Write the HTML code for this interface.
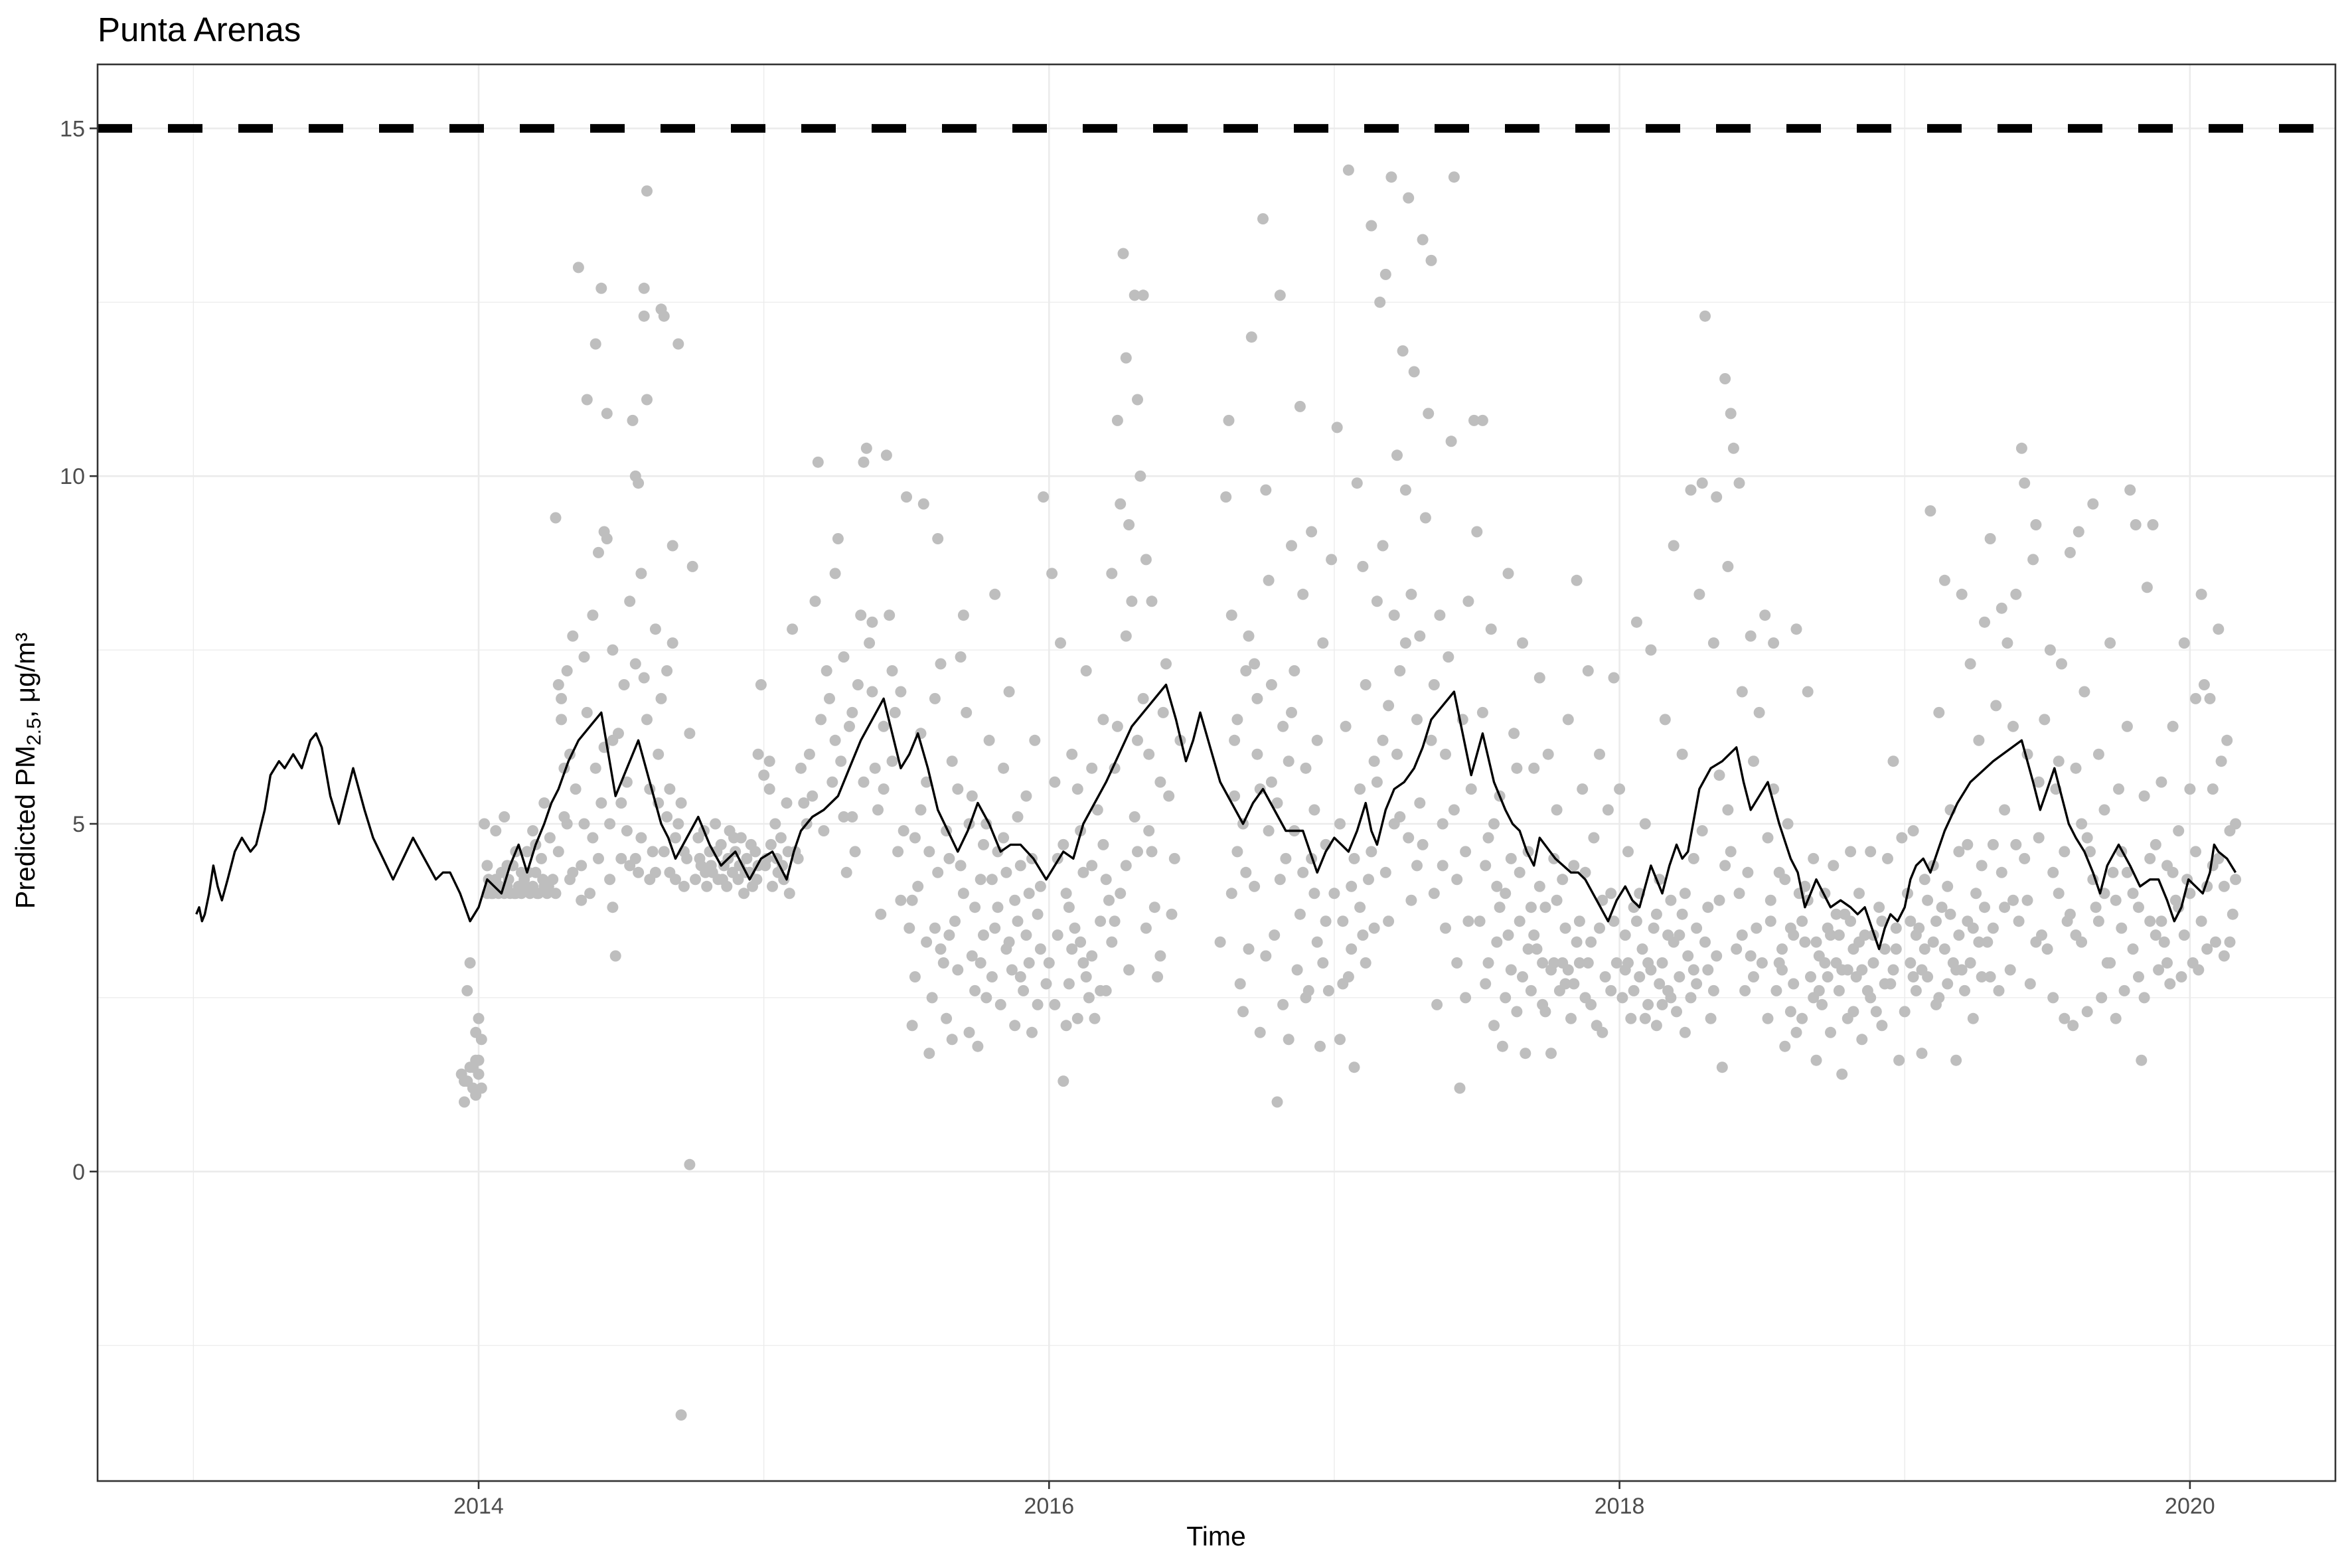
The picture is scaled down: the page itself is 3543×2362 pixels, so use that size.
<!DOCTYPE html>
<html><head><meta charset="utf-8"><style>
html,body{margin:0;padding:0;background:#fff;}
svg{display:block;font-family:"Liberation Sans",Arial,sans-serif;}
</style></head><body>
<svg id="chart" width="3543" height="2362" viewBox="0 0 3543 2362" xmlns="http://www.w3.org/2000/svg">
<rect width="3543" height="2362" fill="#fff"/>
<text x="147" y="62" font-size="51" fill="#000">Punta Arenas</text>
<g id="grid"></g>
<g id="points"></g>
<g id="lines"></g>
<g id="axes"></g>
<text x="1832" y="2328" font-size="41" text-anchor="middle" fill="#000">Time</text>
<text transform="translate(52,1161) rotate(-90)" font-size="41" text-anchor="middle" fill="#000">Predicted PM<tspan font-size="30" dy="9">2.5</tspan><tspan dy="-9">, μg/m³</tspan></text>
</svg>
<script>
const xTickLabels=["2014","2016","2018","2020"];
const xTickValues=[2014,2016,2018,2020];
const yTickValues=[0,5,10,15];
const threshold=15;
const linePairs=`2013.01 3.7,2013.02 3.8,2013.03 3.6,2013.04 3.7,2013.055 4.0,2013.07 4.4,2013.085 4.1,2013.1 3.9,2013.12 4.2,2013.145 4.6,2013.17 4.8,2013.2 4.6,2013.22 4.7,2013.25 5.2,2013.27 5.7,2013.3 5.9,2013.32 5.8,2013.35 6.0,2013.38 5.8,2013.41 6.2,2013.43 6.3,2013.45 6.1,2013.48 5.4,2013.51 5.0,2013.535 5.4,2013.56 5.8,2013.6 5.2,2013.63 4.8,2013.665 4.5,2013.70 4.2,2013.735 4.5,2013.77 4.8,2013.81 4.5,2013.85 4.2,2013.875 4.3,2013.90 4.3,2013.935 4.0,2013.97 3.6,2014.0 3.8,2014.03 4.2,2014.055 4.1,2014.08 4.0,2014.11 4.4,2014.14 4.7,2014.17 4.3,2014.2 4.7,2014.23 5.0,2014.255 5.3,2014.28 5.5,2014.315 5.9,2014.35 6.2,2014.39 6.4,2014.43 6.6,2014.455 6.0,2014.48 5.4,2014.52 5.8,2014.56 6.2,2014.6 5.6,2014.64 5.0,2014.665 4.8,2014.69 4.5,2014.73 4.8,2014.77 5.1,2014.81 4.7,2014.85 4.4,2014.875 4.5,2014.90 4.6,2014.925 4.4,2014.95 4.2,2014.99 4.5,2015.03 4.6,2015.055 4.4,2015.08 4.2,2015.105 4.6,2015.13 4.9,2015.17 5.1,2015.21 5.2,2015.235 5.3,2015.26 5.4,2015.3 5.8,2015.34 6.2,2015.38 6.5,2015.42 6.8,2015.45 6.3,2015.48 5.8,2015.51 6.0,2015.54 6.3,2015.575 5.8,2015.61 5.2,2015.645 4.9,2015.68 4.6,2015.715 4.9,2015.75 5.3,2015.79 5.0,2015.83 4.6,2015.865 4.7,2015.90 4.7,2015.945 4.5,2015.99 4.2,2016.02 4.4,2016.05 4.6,2016.085 4.5,2016.12 5.0,2016.16 5.3,2016.20 5.6,2016.245 6.0,2016.29 6.4,2016.35 6.7,2016.41 7.0,2016.445 6.5,2016.48 5.9,2016.505 6.2,2016.53 6.6,2016.565 6.1,2016.60 5.6,2016.64 5.3,2016.68 5.0,2016.715 5.3,2016.75 5.5,2016.79 5.2,2016.83 4.9,2016.86 4.9,2016.89 4.9,2016.915 4.6,2016.94 4.3,2016.97 4.6,2017.00 4.8,2017.025 4.7,2017.05 4.6,2017.08 4.9,2017.11 5.3,2017.13 4.9,2017.15 4.7,2017.18 5.2,2017.21 5.5,2017.245 5.6,2017.28 5.8,2017.31 6.1,2017.34 6.5,2017.38 6.7,2017.42 6.9,2017.45 6.3,2017.48 5.7,2017.50 6.0,2017.52 6.3,2017.56 5.6,2017.60 5.2,2017.625 5.0,2017.65 4.9,2017.675 4.6,2017.70 4.4,2017.71 4.6,2017.72 4.8,2017.775 4.5,2017.83 4.3,2017.855 4.3,2017.88 4.2,2017.92 3.9,2017.96 3.6,2017.99 3.9,2018.02 4.1,2018.045 3.9,2018.07 3.8,2018.09 4.1,2018.11 4.4,2018.13 4.2,2018.15 4.0,2018.175 4.4,2018.20 4.7,2018.22 4.5,2018.24 4.6,2018.28 5.5,2018.32 5.8,2018.36 5.9,2018.41 6.1,2018.435 5.6,2018.46 5.2,2018.49 5.4,2018.52 5.6,2018.56 5.0,2018.60 4.5,2018.625 4.3,2018.65 3.8,2018.67 4.0,2018.69 4.2,2018.715 4.0,2018.74 3.8,2018.775 3.9,2018.81 3.8,2018.835 3.7,2018.86 3.8,2018.885 3.5,2018.91 3.2,2018.93 3.5,2018.95 3.7,2018.975 3.6,2019.00 3.8,2019.02 4.2,2019.04 4.4,2019.065 4.5,2019.09 4.3,2019.115 4.6,2019.14 4.9,2019.185 5.3,2019.23 5.6,2019.31 5.9,2019.41 6.2,2019.45 5.6,2019.475 5.2,2019.50 5.5,2019.525 5.8,2019.55 5.4,2019.575 5.0,2019.60 4.8,2019.63 4.6,2019.66 4.3,2019.685 4.0,2019.71 4.4,2019.75 4.7,2019.79 4.4,2019.825 4.1,2019.86 4.2,2019.89 4.2,2019.92 3.9,2019.945 3.6,2019.97 3.8,2019.995 4.2,2020.02 4.1,2020.045 4.0,2020.07 4.3,2020.085 4.7,2020.10 4.6,2020.13 4.5,2020.16 4.3`;
const lineX=[],lineY=[];
linePairs.split(',').forEach(function(s){const p=s.trim().split(' ');lineX.push(+p[0]);lineY.push(+p[1]);});
const pts=`2013.95 1.0,2013.96 1.3,2013.97 1.5,2013.98 1.2,2013.99 1.6,2014.0 1.4,2014.01 1.2,2013.96 2.6,2013.97 3.0,2013.99 2.0,2014.0 2.2,2014.02 5.0,2013.94 1.4,2014.01 1.9,2013.98 1.5,2013.99 1.1,2014.0 1.6,2013.95 1.3,
2014.03 4.0,2014.04 4.1,2014.05 4.0,2014.06 4.2,2014.07 4.0,2014.08 4.3,2014.09 4.0,2014.10 4.1,2014.11 4.0,2014.12 4.4,2014.13 4.0,2014.14 4.1,2014.15 4.0,2014.16 4.2,2014.17 4.6,2014.18 4.0,2014.19 4.1,2014.20 4.3,2014.21 4.0,2014.22 4.5,2014.23 4.1,2014.24 4.0,2014.25 4.8,2014.26 4.2,2014.27 4.0,2014.06 4.9,2014.09 5.1,2014.13 4.6,2014.19 4.9,2014.1 4.4,2014.2 4.7,2014.15 4.3,2014.23 5.3,2014.03 4.4,2014.035 4.2,2014.045 4.0,2014.075 4.1,2014.105 4.2,2014.125 4.0,2014.155 4.1,2014.175 4.3,2014.205 4.0,2014.225 4.2,2014.245 4.1,
2014.27 9.4,2014.28 7.0,2014.29 6.5,2014.30 5.8,2014.31 5.0,2014.32 4.2,2014.35 13.0,2014.38 11.1,2014.43 12.7,2014.41 11.9,2014.45 10.9,2014.44 9.2,2014.42 8.9,2014.40 8.0,2014.37 7.4,2014.33 7.7,2014.31 7.2,2014.29 6.8,2014.32 6.0,2014.34 5.5,2014.36 4.4,2014.39 4.0,2014.36 3.9,2014.48 3.1,2014.47 3.8,2014.50 4.5,2014.46 5.0,2014.52 5.6,2014.49 6.3,2014.51 7.0,2014.47 7.5,2014.53 8.2,2014.45 9.1,2014.54 10.8,2014.56 9.9,2014.55 10.0,2014.57 8.6,2014.58 7.1,2014.59 6.5,2014.60 5.5,2014.61 4.6,2014.56 4.3,2014.59 14.1,2014.58 12.7,2014.58 12.3,2014.59 11.1,2014.64 12.4,2014.65 12.3,2014.70 11.9,2014.75 8.7,2014.68 9.0,2014.62 7.8,2014.68 7.6,2014.66 7.2,2014.64 6.8,2014.63 6.0,2014.67 5.5,2014.70 5.0,2014.65 4.6,2014.69 4.2,2014.72 4.1,2014.71 5.3,2014.74 6.3,2014.74 0.1,2014.71 -3.5,2014.40 4.8,2014.43 5.3,2014.44 6.1,2014.52 4.9,2014.55 4.5,2014.38 6.6,2014.55 7.3,2014.41 5.8,2014.30 5.1,2014.28 4.6,2014.47 6.2,2014.62 4.3,2014.66 5.1,2014.73 4.5,2014.33 4.3,2014.37 5.0,2014.42 4.5,2014.46 4.2,2014.5 5.3,2014.53 4.4,2014.57 4.8,2014.6 4.2,2014.63 5.3,2014.67 4.3,2014.69 4.8,2014.72 4.6,
2014.76 4.2,2014.77 4.8,2014.78 4.4,2014.79 4.9,2014.80 4.1,2014.81 4.6,2014.82 4.3,2014.83 5.0,2014.84 4.2,2014.85 4.7,2014.86 4.4,2014.87 4.1,2014.88 4.9,2014.89 4.3,2014.90 4.6,2014.91 4.2,2014.92 4.8,2014.93 4.0,2014.94 4.5,2014.95 4.3,2014.96 4.1,2014.97 4.6,2014.98 4.4,2014.99 7.0,2015.0 5.7,2015.01 4.5,2015.02 5.5,2015.03 4.1,2015.04 5.0,2015.05 4.3,2015.06 4.8,2015.07 4.2,2015.08 5.3,2015.09 4.0,2015.1 7.8,2015.11 4.6,2014.98 6.0,2015.02 5.9,2014.775 4.5,2014.795 4.3,2014.815 4.4,2014.835 4.6,2014.855 4.2,2014.875 4.5,2014.895 4.8,2014.915 4.4,2014.935 4.3,2014.955 4.7,2014.975 4.2,2015.005 4.4,2015.025 4.7,2015.045 4.5,2015.065 4.4,2015.085 4.6,
2015.12 4.5,2015.14 5.3,2015.16 6.0,2015.18 8.2,2015.19 10.2,2015.2 6.5,2015.22 7.2,2015.24 5.6,2015.25 8.6,2015.26 9.1,2015.28 7.4,2015.3 6.4,2015.31 5.1,2015.32 4.6,2015.34 8.0,2015.35 10.2,2015.36 10.4,2015.37 7.6,2015.38 6.9,2015.39 5.8,2015.4 5.2,2015.41 3.7,2015.43 10.3,2015.44 8.0,2015.45 7.2,2015.46 6.6,2015.47 4.6,2015.48 3.9,2015.49 4.9,2015.21 4.9,2015.23 6.8,2015.27 5.9,2015.29 4.3,2015.33 7.0,2015.42 5.5,2015.15 5.0,2015.13 5.8,2015.17 5.4,2015.25 6.2,2015.28 5.1,2015.31 6.6,2015.35 5.6,2015.38 7.9,2015.42 6.4,2015.45 5.9,2015.48 6.9,
2015.5 9.7,2015.51 3.5,2015.52 2.1,2015.53 2.8,2015.54 4.1,2015.55 5.2,2015.56 9.6,2015.57 3.3,2015.58 1.7,2015.59 2.5,2015.6 6.8,2015.61 9.1,2015.62 7.3,2015.63 3.0,2015.64 2.2,2015.65 4.5,2015.66 1.9,2015.67 3.6,2015.68 5.5,2015.69 7.4,2015.7 8.0,2015.71 6.6,2015.72 2.0,2015.73 3.1,2015.74 2.6,2015.75 1.8,2015.76 4.2,2015.77 3.4,2015.78 5.0,2015.79 6.2,2015.8 2.8,2015.81 8.3,2015.82 3.8,2015.83 2.4,2015.84 4.8,2015.85 3.2,2015.86 6.9,2015.87 2.9,2015.88 2.1,2015.89 3.6,2015.9 4.4,2015.91 2.6,2015.92 5.4,2015.93 3.0,2015.94 2.0,2015.95 6.2,2015.96 3.7,2015.97 4.1,2015.98 9.7,2015.99 2.7,2015.52 3.9,2015.58 4.6,2015.62 3.2,2015.66 5.9,2015.7 4.0,2015.74 3.8,2015.78 2.5,2015.82 4.6,2015.86 3.3,2015.9 2.8,2015.94 4.5,2015.55 6.3,2015.6 3.5,2015.64 4.9,2015.68 2.9,2015.72 5.0,2015.76 3.0,2015.8 4.2,2015.84 5.8,2015.88 3.9,2015.92 3.4,2015.96 2.4,2015.53 4.8,2015.57 5.6,2015.61 4.3,2015.65 3.4,2015.69 4.4,2015.73 5.4,2015.77 4.7,2015.81 3.5,2015.85 4.3,2015.89 5.1,2015.93 4.0,2015.97 3.2,
2016.0 3.0,2016.01 8.6,2016.02 5.6,2016.03 3.4,2016.04 7.6,2016.05 1.3,2016.06 4.0,2016.07 2.7,2016.08 6.0,2016.09 3.5,2016.1 2.2,2016.11 4.9,2016.12 3.0,2016.13 7.2,2016.14 2.5,2016.15 4.4,2016.16 2.2,2016.17 5.2,2016.18 3.6,2016.19 6.5,2016.2 2.6,2016.21 3.9,2016.22 8.6,2016.23 5.8,2016.24 10.8,2016.25 9.6,2016.26 13.2,2016.27 11.7,2016.28 9.3,2016.29 8.2,2016.3 12.6,2016.31 11.1,2016.32 10.0,2016.33 12.6,2016.34 8.8,2016.35 6.0,2016.36 4.6,2016.37 3.8,2016.38 2.8,2016.39 3.1,2016.4 6.6,2016.41 7.3,2016.42 5.4,2016.43 3.7,2016.22 3.3,2016.25 4.0,2016.28 2.9,2016.31 4.6,2016.34 3.5,2016.05 4.7,2016.1 5.5,2016.15 3.1,2016.2 4.2,2016.02 2.4,2016.08 3.2,2016.13 2.8,2016.18 2.6,2016.24 6.4,2016.27 7.7,2016.3 5.1,2016.33 6.8,2016.36 8.2,2016.12 4.3,2016.06 2.1,2016.03 4.5,2016.07 3.8,2016.11 3.3,2016.15 5.8,2016.19 4.7,2016.23 3.6,2016.27 4.4,2016.31 6.2,2016.35 4.9,2016.39 5.6,2016.44 4.5,2016.46 6.2,
2016.6 3.3,2016.62 9.7,2016.63 10.8,2016.64 8.0,2016.65 6.2,2016.66 4.6,2016.67 2.7,2016.68 2.3,2016.69 7.2,2016.7 7.7,2016.71 12.0,2016.72 7.3,2016.73 6.0,2016.74 2.0,2016.75 13.7,2016.76 9.8,2016.77 8.5,2016.78 5.6,2016.79 3.4,2016.8 1.0,2016.81 12.6,2016.82 6.4,2016.83 4.5,2016.84 1.9,2016.85 9.0,2016.86 7.2,2016.87 2.9,2016.88 11.0,2016.89 8.3,2016.9 5.8,2016.91 2.6,2016.92 9.2,2016.93 4.0,2016.94 3.3,2016.95 1.8,2016.96 7.6,2016.97 4.7,2016.98 2.6,2016.99 8.8,2016.64 4.0,2016.68 5.0,2016.72 4.1,2016.76 3.1,2016.8 5.3,2016.84 5.9,2016.88 3.7,2016.92 4.5,2016.96 3.0,2016.66 6.5,2016.7 3.2,2016.74 5.5,2016.78 7.0,2016.82 2.4,2016.86 4.9,2016.9 2.5,2016.94 6.2,2016.65 5.4,2016.69 4.3,2016.73 6.8,2016.77 4.9,2016.81 4.2,2016.85 6.6,2016.89 4.3,2016.93 5.2,2016.97 3.6,
2017.0 4.0,2017.01 10.7,2017.02 1.9,2017.03 2.7,2017.04 6.4,2017.05 14.4,2017.06 3.2,2017.07 1.5,2017.08 9.9,2017.09 5.5,2017.1 8.7,2017.11 7.0,2017.12 4.2,2017.13 13.6,2017.14 3.5,2017.15 8.2,2017.16 12.5,2017.17 9.0,2017.18 12.9,2017.19 6.7,2017.2 14.3,2017.21 8.0,2017.22 10.3,2017.23 5.1,2017.24 11.8,2017.25 9.8,2017.26 14.0,2017.27 8.3,2017.28 11.5,2017.29 6.5,2017.3 7.7,2017.31 13.4,2017.32 9.4,2017.33 10.9,2017.34 13.1,2017.35 4.0,2017.36 2.4,2017.37 8.0,2017.38 5.0,2017.39 3.5,2017.4 7.4,2017.41 10.5,2017.42 14.3,2017.43 3.0,2017.44 1.2,2017.45 6.5,2017.46 2.5,2017.47 8.2,2017.48 5.5,2017.49 10.8,2017.03 3.6,2017.07 4.5,2017.11 3.0,2017.15 5.6,2017.19 3.6,2017.23 7.2,2017.27 3.9,2017.31 4.7,2017.35 7.0,2017.39 6.0,2017.43 4.2,2017.47 3.6,2017.05 2.8,2017.09 3.8,2017.13 4.6,2017.17 6.2,2017.21 5.0,2017.25 7.6,2017.29 4.4,2017.02 5.0,2017.06 4.1,2017.1 3.4,2017.14 5.9,2017.18 4.3,2017.22 6.0,2017.26 4.8,2017.3 5.3,2017.34 6.2,2017.38 4.4,2017.42 5.2,2017.46 4.6,
2017.5 9.2,2017.51 3.6,2017.52 6.6,2017.53 2.7,2017.54 4.8,2017.55 7.8,2017.56 2.1,2017.57 3.3,2017.58 5.4,2017.59 1.8,2017.6 4.0,2017.61 8.6,2017.62 2.9,2017.63 6.3,2017.64 2.3,2017.65 3.6,2017.66 7.6,2017.67 1.7,2017.68 4.6,2017.69 2.6,2017.7 5.8,2017.71 3.2,2017.72 7.1,2017.73 2.4,2017.74 3.8,2017.75 6.0,2017.76 1.7,2017.77 3.0,2017.78 5.2,2017.79 2.6,2017.8 4.2,2017.81 3.5,2017.82 6.5,2017.83 2.2,2017.84 4.4,2017.85 8.5,2017.86 3.0,2017.87 5.5,2017.88 2.5,2017.89 7.2,2017.9 3.3,2017.91 4.8,2017.92 2.1,2017.93 6.0,2017.94 3.9,2017.95 2.8,2017.96 5.2,2017.97 4.0,2017.98 7.1,2017.99 3.0,2017.52 10.8,2017.54 3.0,2017.58 3.8,2017.62 4.5,2017.66 2.8,2017.7 3.4,2017.74 2.3,2017.78 3.9,2017.82 2.9,2017.86 3.6,2017.9 2.4,2017.94 2.0,2017.98 3.6,2017.56 5.0,2017.6 2.5,2017.64 5.8,2017.68 3.2,2017.72 4.1,2017.76 2.9,2017.8 3.0,2017.84 2.7,2017.88 4.3,2017.53 4.4,2017.57 4.1,2017.61 3.4,2017.65 4.3,2017.69 3.8,2017.73 3.0,2017.77 4.5,2017.81 2.7,2017.85 3.3,2017.89 3.0,2017.93 3.5,2017.97 2.6,
2018.0 5.5,2018.01 2.5,2018.02 3.4,2018.03 4.6,2018.04 2.2,2018.05 3.8,2018.06 7.9,2018.07 2.8,2018.08 3.2,2018.09 5.0,2018.1 2.4,2018.11 7.5,2018.12 3.5,2018.13 2.1,2018.14 4.2,2018.15 3.0,2018.16 6.5,2018.17 2.6,2018.18 3.9,2018.19 9.0,2018.2 2.3,2018.21 3.4,2018.22 6.0,2018.23 2.0,2018.24 3.1,2018.25 9.8,2018.26 4.5,2018.27 2.7,2018.28 8.3,2018.29 9.9,2018.3 12.3,2018.31 3.8,2018.32 2.2,2018.33 7.6,2018.34 9.7,2018.35 5.7,2018.36 1.5,2018.37 11.4,2018.38 8.7,2018.39 10.9,2018.4 10.4,2018.41 3.2,2018.42 9.9,2018.43 6.9,2018.44 2.6,2018.45 4.3,2018.46 7.7,2018.47 5.9,2018.48 3.5,2018.49 6.6,2018.03 3.0,2018.07 4.0,2018.11 2.9,2018.15 2.4,2018.19 3.3,2018.23 4.0,2018.27 3.5,2018.31 2.9,2018.35 3.9,2018.39 4.6,2018.43 3.4,2018.47 2.8,2018.05 2.6,2018.09 2.2,2018.13 3.7,2018.17 3.4,2018.21 2.8,2018.25 2.5,2018.29 4.9,2018.33 2.6,2018.37 4.4,2018.02 2.9,2018.06 3.6,2018.1 3.0,2018.14 2.7,2018.18 2.5,2018.22 3.7,2018.26 2.9,2018.3 3.3,2018.34 3.1,2018.38 5.2,2018.42 4.0,2018.46 3.1,
2018.5 3.0,2018.51 8.0,2018.52 2.2,2018.53 3.6,2018.54 7.6,2018.55 2.6,2018.56 4.3,2018.57 3.2,2018.58 1.8,2018.59 5.0,2018.6 3.5,2018.61 2.7,2018.62 7.8,2018.63 4.0,2018.64 2.2,2018.65 3.3,2018.66 6.9,2018.67 2.8,2018.68 4.5,2018.69 1.6,2018.7 3.1,2018.71 2.4,2018.72 4.0,2018.73 3.5,2018.74 2.0,2018.75 4.4,2018.76 3.0,2018.77 2.6,2018.78 1.4,2018.79 3.7,2018.8 2.2,2018.81 4.6,2018.82 3.2,2018.83 2.8,2018.84 4.0,2018.85 1.9,2018.86 3.4,2018.87 2.6,2018.88 4.6,2018.89 3.0,2018.9 2.3,2018.91 3.8,2018.92 2.1,2018.93 3.2,2018.94 4.5,2018.95 2.7,2018.96 5.9,2018.97 3.5,2018.98 1.6,2018.99 4.8,2018.52 4.8,2018.56 3.0,2018.6 2.3,2018.64 3.6,2018.68 2.5,2018.72 3.0,2018.76 3.7,2018.8 2.9,2018.84 3.3,2018.88 2.5,2018.92 3.6,2018.96 2.9,2018.54 5.5,2018.58 4.2,2018.62 2.0,2018.66 3.9,2018.7 2.6,2018.74 3.4,2018.78 2.9,2018.82 2.3,2018.53 3.9,2018.57 2.9,2018.61 3.4,2018.65 4.1,2018.69 3.3,2018.73 2.8,2018.77 3.4,2018.81 3.6,2018.85 2.9,2018.89 3.4,2018.93 2.7,2018.97 3.2,
2019.0 2.3,2019.01 4.0,2019.02 3.0,2019.03 4.9,2019.04 2.6,2019.05 3.5,2019.06 1.7,2019.07 4.2,2019.08 2.8,2019.09 9.5,2019.1 3.3,2019.11 2.4,2019.12 6.6,2019.13 3.8,2019.14 8.5,2019.15 2.7,2019.16 5.2,2019.17 3.0,2019.18 1.6,2019.19 4.6,2019.2 8.3,2019.21 2.6,2019.22 3.6,2019.23 7.3,2019.24 2.2,2019.25 4.0,2019.26 6.2,2019.27 2.8,2019.28 7.9,2019.29 3.3,2019.3 9.1,2019.31 4.7,2019.32 6.7,2019.33 2.6,2019.34 8.1,2019.35 3.8,2019.36 7.6,2019.37 2.9,2019.38 6.4,2019.39 8.3,2019.4 3.6,2019.41 10.4,2019.42 9.9,2019.43 6.0,2019.44 2.7,2019.45 8.8,2019.46 9.3,2019.47 4.8,2019.48 3.4,2019.49 6.5,2019.02 3.6,2019.06 2.9,2019.1 4.4,2019.14 3.2,2019.18 2.9,2019.22 4.7,2019.26 3.3,2019.3 2.8,2019.34 4.3,2019.38 3.9,2019.42 4.5,2019.46 3.3,2019.04 3.4,2019.08 3.9,2019.12 2.5,2019.16 3.7,2019.2 2.9,2019.24 3.5,2019.28 3.8,2019.03 2.8,2019.07 3.2,2019.11 3.6,2019.15 4.1,2019.19 3.4,2019.23 3.0,2019.27 4.4,2019.31 3.5,2019.35 5.2,2019.39 4.7,2019.43 3.9,2019.47 5.6,
2019.5 3.2,2019.51 7.5,2019.52 2.5,2019.53 5.5,2019.54 4.0,2019.55 7.3,2019.56 2.2,2019.57 3.6,2019.58 8.9,2019.59 2.1,2019.6 5.8,2019.61 9.2,2019.62 3.3,2019.63 6.9,2019.64 2.3,2019.65 4.6,2019.66 9.6,2019.67 3.8,2019.68 6.0,2019.69 2.5,2019.7 5.2,2019.71 3.0,2019.72 7.6,2019.73 4.3,2019.74 2.2,2019.75 5.5,2019.76 3.5,2019.77 2.6,2019.78 6.4,2019.79 9.8,2019.8 4.0,2019.81 9.3,2019.82 2.8,2019.83 1.6,2019.84 5.4,2019.85 8.4,2019.86 3.6,2019.87 9.3,2019.88 4.7,2019.89 2.9,2019.9 5.6,2019.91 3.3,2019.92 4.4,2019.93 2.7,2019.94 6.4,2019.95 3.9,2019.96 4.9,2019.97 2.8,2019.98 7.6,2019.99 4.2,2020.0 5.5,2020.01 3.0,2020.02 6.8,2020.03 2.9,2020.04 8.3,2020.05 7.0,2020.06 4.1,2020.07 6.8,2020.08 5.5,2020.09 3.3,2020.1 7.8,2020.11 5.9,2020.12 3.1,2020.13 6.2,2020.14 4.9,2020.15 3.7,2020.16 4.2,2019.52 4.3,2019.56 4.6,2019.6 3.4,2019.64 4.8,2019.68 3.6,2019.72 3.0,2019.76 4.6,2019.8 3.2,2019.84 2.5,2019.88 3.4,2019.92 3.0,2019.96 3.8,2020.0 4.0,2020.04 3.6,2020.08 4.4,2020.12 4.1,2019.54 5.9,2019.58 3.7,2019.62 5.0,2019.66 4.2,2019.7 4.0,2019.74 3.9,2019.78 4.3,2019.82 3.8,2019.86 4.5,2019.9 3.6,2019.94 4.3,2019.98 3.4,2020.02 4.6,2020.06 3.2,2020.1 4.5,2020.14 3.3,2020.16 5.0`;
const pointX=[],pointY=[];
pts.split(',').forEach(function(s){const p=s.trim().split(' ');pointX.push(+p[0]);pointY.push(+p[1]);});

const L=147,R=3518,T=97,B=2231;
const xMin=2012.664,xMax=2020.51,yMin=-4.45,yMax=15.92;
function sx(v){return L+(v-xMin)/(xMax-xMin)*(R-L);}
function sy(v){return B-(v-yMin)/(yMax-yMin)*(B-T);}
const NS="http://www.w3.org/2000/svg";
function mk(tag,attrs,parent){const e=document.createElementNS(NS,tag);for(const k in attrs)e.setAttribute(k,attrs[k]);parent.appendChild(e);return e;}

const grid=document.getElementById('grid');
[2013,2015,2017,2019].forEach(function(y){
  const l=mk('line',{x1:sx(y),x2:sx(y),y1:T,y2:B,stroke:'#ebebeb','stroke-width':1.3},grid);
  
  
});
[-2.5,2.5,7.5,12.5].forEach(function(v){
  const l=mk('line',{x1:L,x2:R,y1:sy(v),y2:sy(v),stroke:'#ebebeb','stroke-width':1.3},grid);
  
  
});
xTickValues.forEach(function(y){
  const l=mk('line',{x1:sx(y),x2:sx(y),y1:T,y2:B,stroke:'#ebebeb','stroke-width':2.6},grid);
  
  
});
yTickValues.forEach(function(v){
  const l=mk('line',{x1:L,x2:R,y1:sy(v),y2:sy(v),stroke:'#ebebeb','stroke-width':2.6},grid);
  
  
});

const pg=document.getElementById('points');
for(let i=0;i<pointX.length;i++){
  const c=mk('circle',{cx:sx(pointX[i]).toFixed(1),cy:sy(pointY[i]).toFixed(1),r:8.5,fill:'#bebebe'},pg);
  
  
}

const lg=document.getElementById('lines');
const th=mk('line',{x1:L,x2:R,y1:sy(threshold),y2:sy(threshold),stroke:'#000','stroke-width':13,'stroke-dasharray':'52 54'},lg);


let d='';
for(let i=0;i<lineX.length;i++){d+=(i?'L':'M')+sx(lineX[i]).toFixed(1)+' '+sy(lineY[i]).toFixed(1);}
const pl=mk('path',{d:d,fill:'none',stroke:'#000','stroke-width':3.4,'stroke-linejoin':'round'},lg);



const ax=document.getElementById('axes');
const fr=mk('rect',{x:L,y:T,width:R-L,height:B-T,fill:'none',stroke:'#333','stroke-width':2.6},ax);


xTickValues.forEach(function(y,i){
  const t=mk('line',{x1:sx(y),x2:sx(y),y1:B,y2:B+12,stroke:'#333','stroke-width':2.6},ax);
  
  
  const tx=mk('text',{x:sx(y),y:B+49,'font-size':34,'text-anchor':'middle',fill:'#4d4d4d'},ax);
  tx.textContent=xTickLabels[i];
  
  
});
yTickValues.forEach(function(v){
  const t=mk('line',{x1:L-12,x2:L,y1:sy(v),y2:sy(v),stroke:'#333','stroke-width':2.6},ax);
  
  
  const tx=mk('text',{x:L-19,y:sy(v)+12,'font-size':34,'text-anchor':'end',fill:'#4d4d4d'},ax);
  tx.textContent=String(v);
  
  
});
</script>
</body></html>
